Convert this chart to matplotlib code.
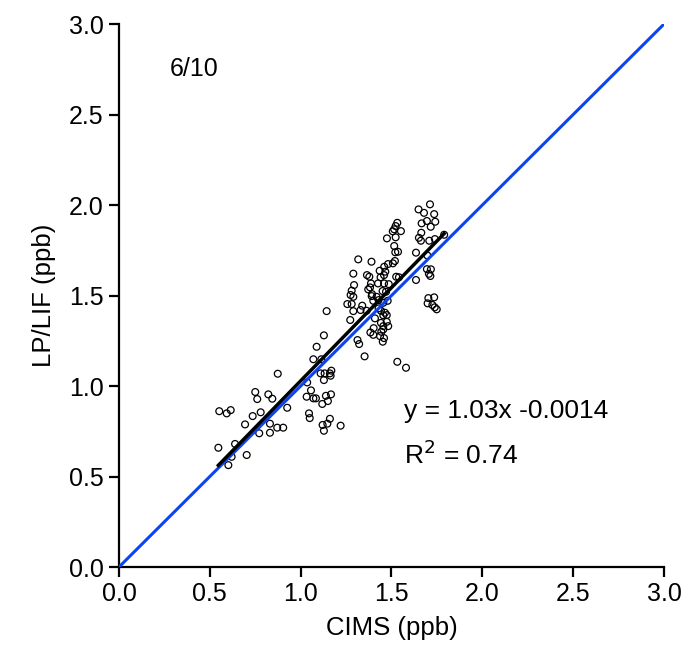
import matplotlib.pyplot as plt
import numpy as np

plt.rcParams['font.family'] = ['Liberation Sans', 'DejaVu Sans']

# CIMS vs LP/LIF
cims = [0.552, 0.593, 0.615, 0.547, 0.602, 0.620, 0.639, 0.703, 0.694, 0.736,
        0.780, 0.761, 0.750, 0.822, 0.844, 0.772, 0.831, 0.831, 0.871, 0.904,
        0.926, 0.874, 1.033, 1.057, 1.070, 1.084, 1.036, 1.046, 1.050, 1.119,
        1.139, 1.167, 1.150, 1.161, 1.121, 1.147, 1.128, 1.220, 1.128, 1.110,
        1.132, 1.161, 1.169, 1.165, 1.070, 1.114, 1.088, 1.128, 1.143, 1.313,
        1.322, 1.352, 1.257, 1.273, 1.281, 1.290, 1.294, 1.281, 1.275, 1.290,
        1.290, 1.317, 1.390, 1.330, 1.363, 1.339, 1.400, 1.429, 1.455, 1.479,
        1.429, 1.442, 1.464, 1.474, 1.455, 1.409, 1.474, 1.455, 1.482, 1.455,
        1.444, 1.437, 1.459, 1.452, 1.402, 1.532, 1.580, 1.387, 1.426, 1.459,
        1.382, 1.372, 1.393, 1.391, 1.418, 1.451, 1.470, 1.365, 1.378, 1.435,
        1.440, 1.481, 1.460, 1.466, 1.459, 1.519, 1.508, 1.526, 1.541, 1.635,
        1.515, 1.536, 1.521, 1.635, 1.475, 1.523, 1.532, 1.523, 1.515, 1.507,
        1.552, 1.712, 1.649, 1.679, 1.735, 1.695, 1.741, 1.666, 1.716, 1.664,
        1.651, 1.662, 1.708, 1.739, 1.697, 1.695, 1.717, 1.706, 1.714, 1.703,
        1.735, 1.699, 1.725, 1.749, 1.738, 1.384, 1.400, 1.442, 1.485, 1.790]
lplif = [0.861, 0.849, 0.867, 0.659, 0.563, 0.609, 0.680, 0.619, 0.788, 0.834,
         0.855, 0.928, 0.967, 0.954, 0.930, 0.739, 0.742, 0.792, 0.770, 0.770,
         0.880, 1.068, 0.941, 0.976, 0.932, 0.932, 1.020, 0.849, 0.823, 0.901,
         0.946, 0.954, 0.917, 0.819, 0.785, 0.792, 0.753, 0.781, 1.033, 1.070,
         1.070, 1.070, 1.085, 1.057, 1.148, 1.148, 1.217, 1.280, 1.414, 1.254,
         1.232, 1.164, 1.453, 1.365, 1.453, 1.414, 1.558, 1.527, 1.503, 1.493,
         1.621, 1.700, 1.687, 1.420, 1.416, 1.444, 1.471, 1.475, 1.460, 1.471,
         1.429, 1.416, 1.405, 1.392, 1.391, 1.374, 1.355, 1.331, 1.331, 1.313,
         1.300, 1.276, 1.265, 1.245, 1.320, 1.134, 1.101, 1.567, 1.567, 1.567,
         1.545, 1.534, 1.508, 1.497, 1.493, 1.525, 1.521, 1.613, 1.604, 1.637,
         1.601, 1.674, 1.659, 1.632, 1.613, 1.691, 1.678, 1.604, 1.601, 1.586,
         1.774, 1.742, 1.739, 1.737, 1.816, 1.822, 1.902, 1.884, 1.866, 1.855,
         1.856, 2.004, 1.976, 1.957, 1.950, 1.912, 1.908, 1.899, 1.880, 1.847,
         1.819, 1.803, 1.803, 1.812, 1.722, 1.646, 1.645, 1.620, 1.608, 1.486,
         1.490, 1.457, 1.448, 1.424, 1.435, 1.296, 1.283, 1.349, 1.563, 1.836]

slope = 1.03
intercept = -0.0014
r2 = 0.74
date_label = '6/10'
ticks = [0.0, 0.5, 1.0, 1.5, 2.0, 2.5, 3.0]

fig = plt.figure(figsize=(6.85, 6.51), dpi=100)
ax = fig.add_axes([0.1737, 0.129, 0.7956, 0.834])

ax.scatter(cims, lplif, s=24, facecolors='none', edgecolors='black',
           linewidths=0.9, zorder=2)

ax.plot([0, 3], [0, 3], color='#0a45f5', lw=2.2, zorder=3)

x = np.array(cims)
xf = np.array([x.min(), x.max()])
ax.plot(xf, slope * xf + intercept, color='black', lw=2.5, zorder=4)

ax.set_xlim(0, 3)
ax.set_ylim(0, 3)
ax.set_xticks(ticks)
ax.set_yticks(ticks)
ax.set_xticklabels([f'{t:.1f}' for t in ticks])
ax.set_yticklabels([f'{t:.1f}' for t in ticks])
ax.spines['top'].set_visible(False)
ax.spines['right'].set_visible(False)
for s in ['left', 'bottom']:
    ax.spines[s].set_linewidth(1.6)
ax.tick_params(direction='out', length=7, width=1.6, labelsize=18, pad=4)

ax.set_xlabel('CIMS (ppb)', fontsize=18.5, labelpad=7)
ax.set_ylabel('LP/LIF (ppb)', fontsize=18.5, labelpad=9)

ax.text(0.28, 2.75, date_label, fontsize=18, va='center')
ax.text(1.57, 0.86, f'y = {slope:.2f}x {intercept:.4f}', fontsize=19,
        va='center')
ax.text(1.57, 0.62, f'R$^2$ = {r2:.2f}', fontsize=19, va='center')

fig.savefig('out.png', dpi=100)
